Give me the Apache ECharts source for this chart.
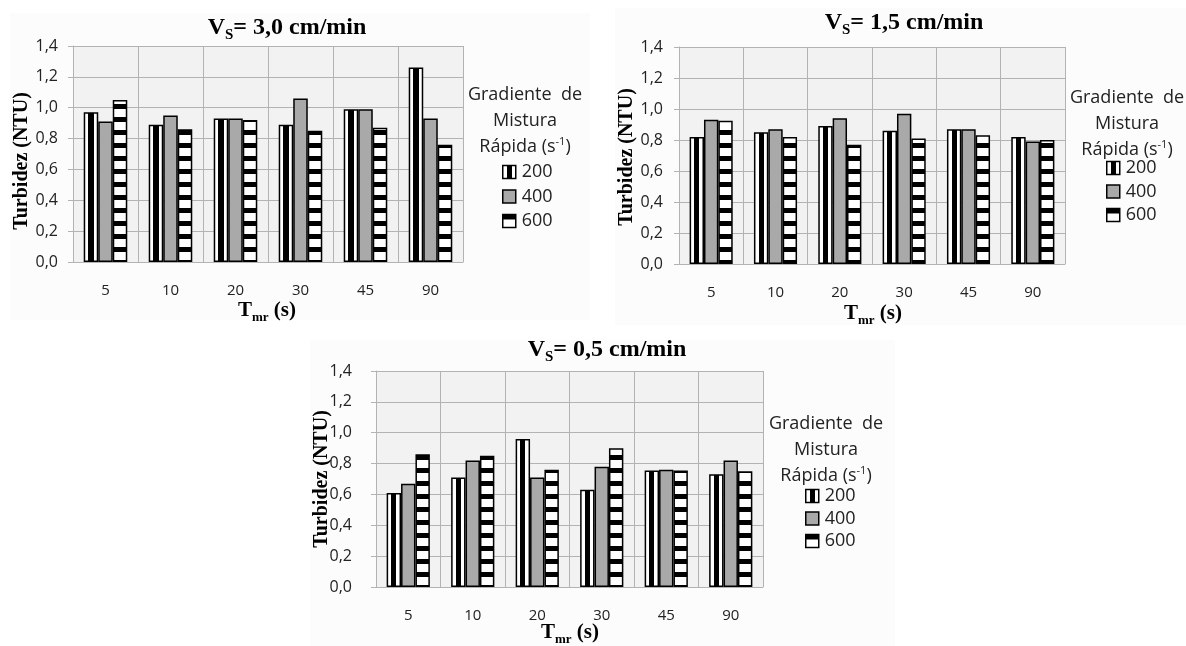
<!DOCTYPE html>
<html>
<head>
<meta charset="utf-8">
<title>Turbidez x Tmr</title>
<script src="https://cdn.jsdelivr.net/npm/echarts@6/dist/echarts.min.js"></script>
<style>
    html, body { margin: 0; padding: 0; background: #fff; }
    #chart { width: 1186px; height: 646px; }
</style>
</head>
<body>
<div id="chart"></div>
<script>
const tmr = ['5', '10', '20', '30', '45', '90'];
const gradientes = ['200', '400', '600'];
const yTicks = ['0,0', '0,2', '0,4', '0,6', '0,8', '1,0', '1,2', '1,4'];

// Vs = 3,0 cm/min
const vs30g200 = [0.97, 0.89, 0.93, 0.89, 0.99, 1.26];
const vs30g400 = [0.91, 0.95, 0.93, 1.06, 0.99, 0.93];
const vs30g600 = [1.05, 0.86, 0.92, 0.85, 0.87, 0.76];

// Vs = 1,5 cm/min
const vs15g200 = [0.82, 0.85, 0.89, 0.86, 0.87, 0.82];
const vs15g400 = [0.93, 0.87, 0.94, 0.97, 0.87, 0.79];
const vs15g600 = [0.925, 0.82, 0.77, 0.81, 0.83, 0.80];

// Vs = 0,5 cm/min
const vs05g200 = [0.61, 0.71, 0.96, 0.63, 0.755, 0.73];
const vs05g400 = [0.67, 0.82, 0.71, 0.78, 0.76, 0.82];
const vs05g600 = [0.86, 0.85, 0.76, 0.90, 0.755, 0.75];

const serif = 'Liberation Serif';
const sans = 'Open Sans';
const gridColor = '#b3b3b3';

// preenchimentos tipo Excel: listras verticais, cinza, listras horizontais
const vStripes = new echarts.graphic.LinearGradient(0, 0, 1, 0, [
    { offset: 0, color: '#fff' }, { offset: 0.32, color: '#fff' },
    { offset: 0.32, color: '#000' }, { offset: 0.68, color: '#000' },
    { offset: 0.68, color: '#fff' }, { offset: 1, color: '#fff' }
]);
function hStripes() {
    const c = document.createElement('canvas');
    c.width = 4;
    c.height = 13;
    const ctx = c.getContext('2d');
    ctx.fillStyle = '#fff';
    ctx.fillRect(0, 0, 4, 13);
    ctx.fillStyle = '#000';
    ctx.fillRect(0, 0, 4, 5);
    return c;
}
const fills = [vStripes, '#a9a9a9', { image: hStripes(), repeat: 'repeat' }];

const panels = [
    {
        vs: '3,0', data: [vs30g200, vs30g400, vs30g600],
        grid: { left: 73, top: 46, width: 390, height: 216 },
        bg: [10, 13, 580, 307], title: [287, 28], yName: [22, 161], xName: [267, 311],
        head: [525, 121], legend: [502, 162, 4.5], yMargin: 15
    },
    {
        vs: '1,5', data: [vs15g200, vs15g400, vs15g600],
        grid: { left: 679, top: 47, width: 386, height: 217 },
        bg: [615, 8, 571, 317], title: [904, 23], yName: [627, 157], xName: [873, 314],
        head: [1127, 124], legend: [1106, 158, 3.5], yMargin: 16
    },
    {
        vs: '0,5', data: [vs05g200, vs05g400, vs05g600],
        grid: { left: 376, top: 371, width: 387, height: 216 },
        bg: [310, 340, 585, 306], title: [607, 350], yName: [322, 479], xName: [570, 633],
        head: [826, 450], legend: [805, 486, 2.5], yMargin: 24
    }
];

const chart = echarts.init(document.getElementById('chart'));

const grids = [], xAxes = [], yAxes = [], series = [], legends = [], graphics = [];

panels.forEach((p, i) => {
    grids.push(Object.assign({ show: true, backgroundColor: '#f2f2f2', borderWidth: 0 }, p.grid));

    xAxes.push({
        type: 'category', gridIndex: i, data: tmr, boundaryGap: true,
        axisLine: { lineStyle: { color: gridColor, width: 1 } },
        axisTick: { show: false },
        splitLine: { show: true, interval: 0, lineStyle: { color: gridColor } },
        axisLabel: { color: '#222', fontFamily: sans, fontSize: 15, margin: 21, interval: 0 }
    });

    yAxes.push({
        type: 'value', gridIndex: i, min: 0, max: 1.4, interval: 0.2,
        axisLine: { show: true, lineStyle: { color: gridColor } },
        axisTick: { show: true, length: 5, lineStyle: { color: gridColor } },
        splitLine: { lineStyle: { color: gridColor } },
        axisLabel: {
            color: '#222', fontFamily: sans, fontSize: 16, margin: p.yMargin,
            formatter: v => yTicks[Math.round(v / 0.2)]
        }
    });

    gradientes.forEach((g, j) => {
        series.push({
            type: 'bar', name: g, xAxisIndex: i, yAxisIndex: i,
            data: p.data[j],
            barGap: '0%', barCategoryGap: '33%',
            itemStyle: { color: fills[j], borderColor: '#000', borderWidth: 1.5 }
        });
    });

    legends.push({
        data: gradientes, orient: 'vertical', left: p.legend[0], top: p.legend[1],
        itemGap: p.legend[2], itemWidth: 13, itemHeight: 13, padding: 0,
        icon: 'rect', selectedMode: false,
        itemStyle: { borderColor: '#000', borderWidth: 1.5 },
        textStyle: { fontFamily: sans, fontSize: 18, color: '#222', lineHeight: 20, padding: [0, 0, 0, 1] }
    });

    // fundo do painel
    graphics.push({
        type: 'rect', z: -10, silent: true,
        shape: { x: p.bg[0], y: p.bg[1], width: p.bg[2], height: p.bg[3] },
        style: { fill: '#fcfcfc' }
    });

    // título Vs
    graphics.push({
        type: 'text', x: p.title[0], y: p.title[1],
        style: {
            text: '{v|V}{s|S}{v|= ' + p.vs + ' cm/min}',
            align: 'center', verticalAlign: 'middle',
            rich: {
                v: { fontFamily: serif, fontWeight: 'bold', fontSize: 24, lineHeight: 30, fill: '#000' },
                s: { fontFamily: serif, fontWeight: 'bold', fontSize: 15, lineHeight: 15, verticalAlign: 'bottom', fill: '#000' }
            }
        }
    });

    // nome do eixo y
    graphics.push({
        type: 'text', x: p.yName[0], y: p.yName[1], rotation: Math.PI / 2,
        style: {
            text: 'Turbidez (NTU)', align: 'center', verticalAlign: 'middle',
            fontFamily: serif, fontWeight: 'bold', fontSize: 20, fill: '#000'
        }
    });

    // nome do eixo x
    graphics.push({
        type: 'text', x: p.xName[0], y: p.xName[1],
        style: {
            text: '{t|T}{s|mr}{t| (s)}', align: 'center', verticalAlign: 'middle',
            rich: {
                t: { fontFamily: serif, fontWeight: 'bold', fontSize: 21, lineHeight: 26, fill: '#000' },
                s: { fontFamily: serif, fontWeight: 'bold', fontSize: 13, lineHeight: 13, verticalAlign: 'bottom', fill: '#000' }
            }
        }
    });

    // cabeçalho da legenda
    graphics.push({
        type: 'text', x: p.head[0], y: p.head[1],
        style: {
            text: '{a|Gradiente  de}\n{a|Mistura}\n{a|Rápida (s}{u|-1}{a|)}',
            align: 'center', verticalAlign: 'middle',
            rich: {
                a: { fontFamily: sans, fontSize: 18, lineHeight: 26, fill: '#222' },
                u: { fontFamily: sans, fontSize: 11, lineHeight: 26, verticalAlign: 'top', padding: [2, 0, 0, 0], fill: '#222' }
            }
        }
    });
});

chart.setOption({
    animation: false,
    backgroundColor: '#fff',
    grid: grids,
    xAxis: xAxes,
    yAxis: yAxes,
    legend: legends,
    series: series,
    graphic: graphics
});
</script>
</body>
</html>
